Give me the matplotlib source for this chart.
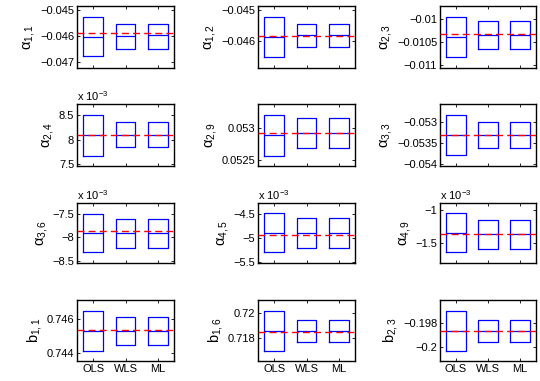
import matplotlib
matplotlib.use("Agg")
import matplotlib.pyplot as plt

plt.rcParams['font.family'] = ['Liberation Sans', 'DejaVu Sans']
plt.rcParams['mathtext.fontset'] = 'custom'
plt.rcParams['mathtext.rm'] = 'Liberation Sans'
plt.rcParams['mathtext.it'] = 'Liberation Sans'
plt.rcParams['mathtext.bf'] = 'Liberation Sans:bold'

methods = ["OLS", "WLS", "ML"]

labels = ["\u03b1$_{1,1}$", "\u03b1$_{1,2}$", "\u03b1$_{2,3}$",
          "\u03b1$_{2,4}$", "\u03b1$_{2,9}$", "\u03b1$_{3,3}$",
          "\u03b1$_{3,6}$", "\u03b1$_{4,5}$", "\u03b1$_{4,9}$",
          "b$_{1,1}$", "b$_{1,6}$", "b$_{2,3}$"]

# per subplot: q1 (lower box edge), median, q3 (upper box edge) for OLS, WLS, ML
q1 = [
    [-0.046772, -0.046481, -0.046481],
    [-0.046495, -0.046179, -0.046179],
    [-0.010832, -0.010650, -0.010650],
    [7.668e-3, 7.836e-3, 7.836e-3],
    [0.052574, 0.052695, 0.052695],
    [-0.053787, -0.053630, -0.053630],
    [-8.314e-3, -8.217e-3, -8.217e-3],
    [-5.295e-3, -5.205e-3, -5.205e-3],
    [-1.643e-3, -1.597e-3, -1.597e-3],
    [0.744137, 0.744490, 0.744490],
    [0.716987, 0.717680, 0.717680],
    [-0.200306, -0.199583, -0.199583],
]
med = [
    [-0.046038, -0.045987, -0.045975],
    [-0.045853, -0.045789, -0.045800],
    [-0.010394, -0.010350, -0.010350],
    [8.094e-3, 8.101e-3, 8.101e-3],
    [0.052895, 0.052932, 0.052932],
    [-0.053315, -0.053323, -0.053323],
    [-7.907e-3, -7.907e-3, -7.907e-3],
    [-4.897e-3, -4.890e-3, -4.890e-3],
    [-1.347e-3, -1.362e-3, -1.362e-3],
    [0.745294, 0.745294, 0.745294],
    [0.718560, 0.718560, 0.718560],
    [-0.198667, -0.198667, -0.198667],
]
q3 = [
    [-0.045253, -0.045519, -0.045519],
    [-0.045211, -0.045442, -0.045442],
    [-0.009942, -0.010036, -0.010036],
    [8.500e-3, 8.360e-3, 8.360e-3],
    [0.053200, 0.053168, 0.053168],
    [-0.052858, -0.053016, -0.053016],
    [-7.500e-3, -7.617e-3, -7.617e-3],
    [-4.486e-3, -4.596e-3, -4.596e-3],
    [-1.041e-3, -1.143e-3, -1.143e-3],
    [0.746490, 0.746118, 0.746118],
    [0.720187, 0.719440, 0.719440],
    [-0.196972, -0.197750, -0.197750],
]
true_vals = [-0.045899, -0.045821, -0.010314, 8.101e-3, 0.052932, -0.053323,
             -7.859e-3, -4.932e-3, -1.357e-3, 0.745373, 0.718533, -0.198667]

ylims = [(-0.04722, -0.04485), (-0.046842, -0.044874), (-0.011073, -0.009708),
         (7.451e-3, 8.738e-3), (0.052411, 0.053379), (-0.054039, -0.052591),
         (-8.534e-3, -7.279e-3), (-5.514e-3, -4.281e-3), (-1.806e-3, -0.888e-3),
         (0.743549, 0.747137), (0.716187, 0.721067), (-0.201139, -0.196056)]

yticks = [[-0.047, -0.046, -0.045], [-0.046, -0.045], [-0.011, -0.0105, -0.01],
          [7.5e-3, 8e-3, 8.5e-3], [0.0525, 0.053], [-0.054, -0.0535, -0.053],
          [-8.5e-3, -8e-3, -7.5e-3], [-5.5e-3, -5e-3, -4.5e-3], [-1.5e-3, -1e-3],
          [0.744, 0.746], [0.718, 0.72], [-0.2, -0.198]]
ytick_labels = [["\u22120.047", "\u22120.046", "\u22120.045"], ["\u22120.046", "\u22120.045"],
                ["\u22120.011", "\u22120.0105", "\u22120.01"],
                ["7.5", "8", "8.5"], ["0.0525", "0.053"], ["\u22120.054", "\u22120.0535", "\u22120.053"],
                ["\u22128.5", "\u22128", "\u22127.5"], ["\u22125.5", "\u22125", "\u22124.5"],
                ["\u22121.5", "\u22121"],
                ["0.744", "0.746"], ["0.718", "0.72"], ["\u22120.2", "\u22120.198"]]
scaled = [False, False, False, True, False, False, True, True, True, False, False, False]

W, H = 540, 381
fig = plt.figure(figsize=(W / 100, H / 100), dpi=100)

col_x = [(77, 174), (258, 355), (440, 536)]
row_y = [(6, 68), (104, 166), (203, 263), (300, 361)]

for i in range(12):
    r, c = divmod(i, 3)
    x0, x1 = col_x[c]
    y0, y1 = row_y[r]
    ax = fig.add_axes([x0 / W, 1 - y1 / H, (x1 - x0) / W, (y1 - y0) / H])
    stats = []
    for j, m in enumerate(methods):
        stats.append(dict(label=m, q1=q1[i][j], med=med[i][j], q3=q3[i][j],
                          whislo=q1[i][j], whishi=q3[i][j], fliers=[]))
    ax.bxp(stats, positions=[1, 2, 3], widths=0.6, showcaps=False, showfliers=False,
           boxprops=dict(color="#0000ff", linewidth=0.9),
           medianprops=dict(color="#0000ff", linewidth=0.9),
           whiskerprops=dict(color="#0000ff", linewidth=0))
    ax.axhline(true_vals[i], color="#ff0000", linestyle=(0, (5, 3)), linewidth=1.0, zorder=3)
    ax.set_xlim(0.5, 3.5)
    ax.set_ylim(*ylims[i])
    ax.set_yticks(yticks[i])
    ax.set_yticklabels(ytick_labels[i])
    ax.set_xticks([1, 2, 3])
    if r == 3:
        ax.set_xticklabels(methods)
    else:
        ax.set_xticklabels([])
    ax.tick_params(direction="in", length=2, width=0.6, labelsize=8, pad=2,
                   right=True, top=True)
    for s in ax.spines.values():
        s.set_linewidth(1.0)
    ax.set_ylabel(labels[i], fontsize=10.5, labelpad=2)
    if scaled[i]:
        ax.text(0.0, 1.01, r"x 10$^{-3}$", transform=ax.transAxes, fontsize=8,
                ha="left", va="bottom")

fig.savefig("out.png", dpi=100)
